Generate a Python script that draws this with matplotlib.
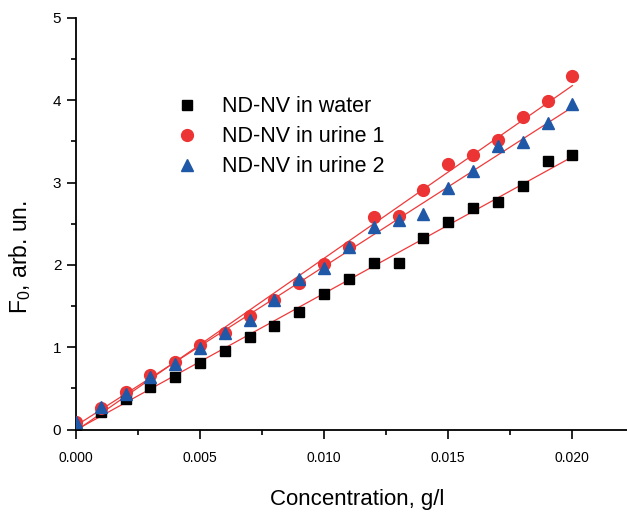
import numpy as np
import matplotlib
matplotlib.use('Agg')
import matplotlib.pyplot as plt
from matplotlib.ticker import MultipleLocator, FormatStrFormatter

plt.rcParams['font.family'] = ['Liberation Sans', 'DejaVu Sans']
plt.rcParams['mathtext.default'] = 'regular'

# Концентрация, г/л
conc = [0.000, 0.001, 0.002, 0.003, 0.004, 0.005, 0.006, 0.007, 0.008, 0.009, 0.010,
        0.011, 0.012, 0.013, 0.014, 0.015, 0.016, 0.017, 0.018, 0.019, 0.020]

water = [0.05, 0.21, 0.37, 0.52, 0.64, 0.81, 0.95, 1.12, 1.26, 1.43, 1.65,
         1.83, 2.02, 2.02, 2.33, 2.52, 2.69, 2.76, 2.96, 3.26, 3.34]
urine1 = [0.09, 0.26, 0.46, 0.66, 0.82, 1.03, 1.17, 1.38, 1.57, 1.78, 2.01,
          2.22, 2.58, 2.59, 2.91, 3.22, 3.33, 3.52, 3.80, 3.99, 4.30]
urine2 = [0.09, 0.28, 0.43, 0.64, 0.80, 0.99, 1.17, 1.33, 1.57, 1.83, 1.96,
          2.22, 2.46, 2.55, 2.62, 2.93, 3.14, 3.44, 3.49, 3.72, 3.95]

labels = ['ND-NV in water', 'ND-NV in urine 1', 'ND-NV in urine 2']

fig = plt.figure(figsize=(6.27, 5.12), dpi=100)
ax = fig.add_axes([0.121, 0.161, 0.879, 0.804])

x = np.array(conc)
ax.plot(conc, water, 's', color='black', ms=7, label=labels[0], zorder=3)
ax.plot(conc, urine1, 'o', color='#ec3434', ms=8.5, label=labels[1], zorder=3)
ax.plot(conc, urine2, '^', color='#2058a8', ms=9, label=labels[2], zorder=3)

# линейная аппроксимация
for y in (water, urine1, urine2):
    k, b = np.polyfit(x, y, 1)
    ax.plot(x, k * x + b, '-', color='#f03a3a', lw=0.9, zorder=2)

ax.set_xlim(0, 0.0222)
ax.set_ylim(0, 5)
ax.xaxis.set_major_locator(MultipleLocator(0.005))
ax.xaxis.set_minor_locator(MultipleLocator(0.0025))
ax.yaxis.set_major_locator(MultipleLocator(1))
ax.yaxis.set_minor_locator(MultipleLocator(0.5))
ax.xaxis.set_major_formatter(FormatStrFormatter('%.3f'))

ax.spines['top'].set_visible(False)
ax.spines['right'].set_visible(False)
for s in ('left', 'bottom'):
    ax.spines[s].set_linewidth(1.3)
ax.tick_params(which='major', direction='out', length=6.5, width=1.2)
ax.tick_params(which='minor', direction='out', length=3.5, width=1.2)
ax.tick_params(axis='x', which='major', labelsize=10, pad=9)
ax.tick_params(axis='y', which='major', labelsize=11, pad=4)

ax.set_xlabel('Concentration, g/l', fontsize=16)
ax.set_ylabel('F$_0$, arb. un.', fontsize=16.5)
ax.xaxis.set_label_coords(0.51, -0.145)
ax.yaxis.set_label_coords(-0.078, 0.42)

ax.legend(loc='upper left', bbox_to_anchor=(0.162, 0.81), frameon=False,
          fontsize=15.5, handletextpad=0.63, labelspacing=0.42, borderaxespad=0,
          borderpad=0)

fig.savefig('out.png', dpi=100)
